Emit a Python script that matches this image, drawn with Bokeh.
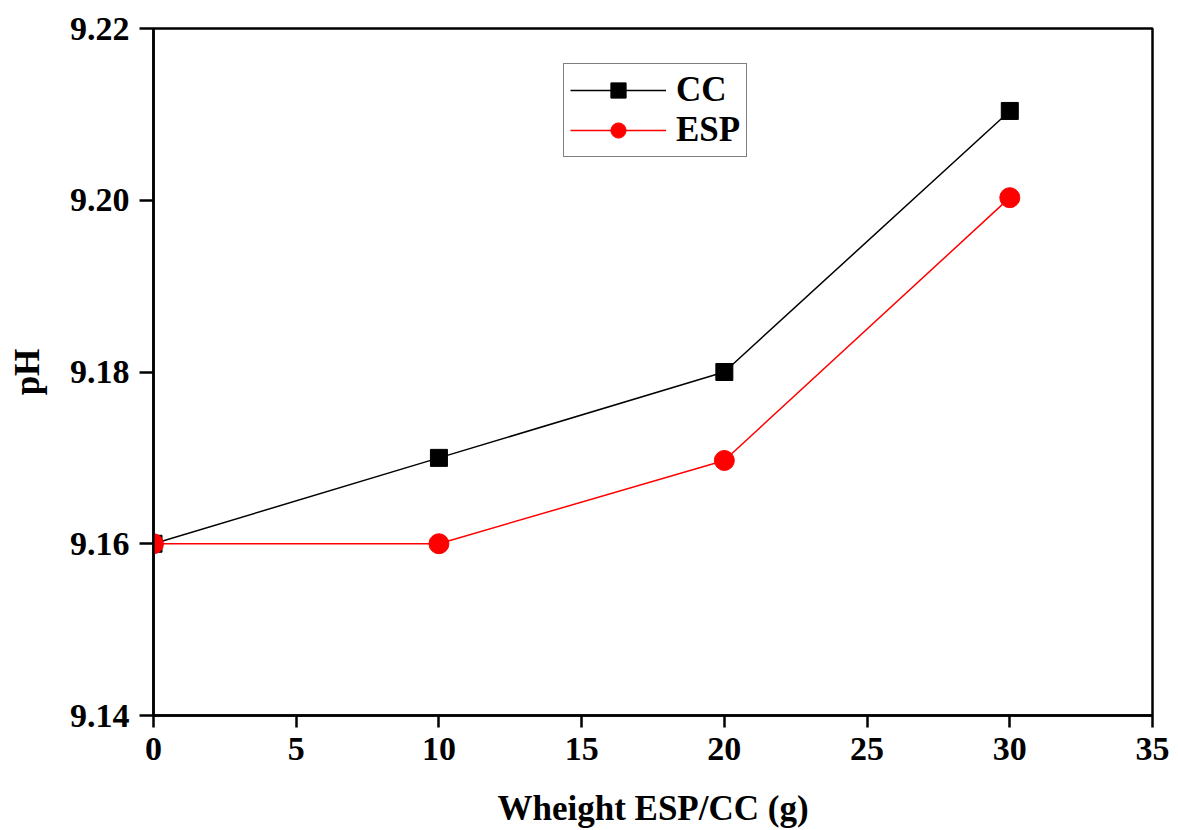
from bokeh.plotting import figure
from bokeh.models import FixedTicker, Range1d, Legend, LegendItem, PrintfTickFormatter
from bokeh.embed import file_html
from bokeh.resources import INLINE

weights = [0, 10, 20, 30]
ph_cc = [9.160, 9.170, 9.180, 9.2104]
ph_esp = [9.160, 9.160, 9.1697, 9.2003]

x_ticks = [0, 5, 10, 15, 20, 25, 30, 35]
y_ticks = [9.14, 9.16, 9.18, 9.20, 9.22]

FONT = "Liberation Serif"

p = figure(width=1178, height=830, output_backend="svg", toolbar_location=None,
           x_range=Range1d(0, 35), y_range=Range1d(9.14, 9.22),
           min_border_left=153, min_border_right=26, min_border_top=28, min_border_bottom=115)
p.grid.visible = False
p.outline_line_color = "black"
p.outline_line_width = 2.5
p.background_fill_color = "white"
p.border_fill_color = "white"

for ax in (p.xaxis[0], p.yaxis[0]):
    ax.axis_line_width = 2.5
    ax.major_tick_line_width = 2.5
    ax.major_tick_in = 0
    ax.minor_tick_line_color = None
    ax.major_label_text_font = FONT
    ax.major_label_text_font_style = "bold"
    ax.major_label_text_font_size = "34px"
    ax.axis_label_text_font = FONT
    ax.axis_label_text_font_style = "bold"
    ax.axis_label_text_font_size = "35px"
    ax.major_label_text_color = "black"
    ax.axis_label_text_color = "black"

p.xaxis.ticker = FixedTicker(ticks=x_ticks)
p.yaxis.ticker = FixedTicker(ticks=y_ticks)
p.yaxis.formatter = PrintfTickFormatter(format="%.2f")
p.xaxis.major_tick_out = 12
p.yaxis.major_tick_out = 14
p.xaxis.major_label_standoff = 10
p.yaxis.major_label_standoff = 10
p.xaxis.axis_label = "Wheight ESP/CC (g)"
p.yaxis.axis_label = "pH"
p.xaxis.axis_label_standoff = 26
p.yaxis.axis_label_standoff = 20

l1 = p.line(weights, ph_cc, line_color="black", line_width=1.5)
m1 = p.scatter(weights, ph_cc, marker="square", size=17, fill_color="black", line_color="black")
l2 = p.line(weights, ph_esp, line_color="red", line_width=1.5)
m2 = p.scatter(weights, ph_esp, marker="circle", size=20, fill_color="red", line_color="red")

legend = Legend(items=[LegendItem(label="CC", renderers=[l1, m1]),
                       LegendItem(label="ESP", renderers=[l2, m2])],
                location=(410, 558))
legend.border_line_color = "black"
legend.border_line_width = 1.5
legend.label_text_font = FONT
legend.label_text_font_style = "bold"
legend.label_text_font_size = "35px"
legend.label_text_color = "black"
legend.glyph_width = 96
legend.glyph_height = 38
legend.label_height = 38
legend.spacing = 0
legend.padding = 6
legend.margin = 0
legend.label_standoff = 10
legend.background_fill_alpha = 1
p.add_layout(legend)

open("out.html", "w").write(file_html(p, INLINE))
